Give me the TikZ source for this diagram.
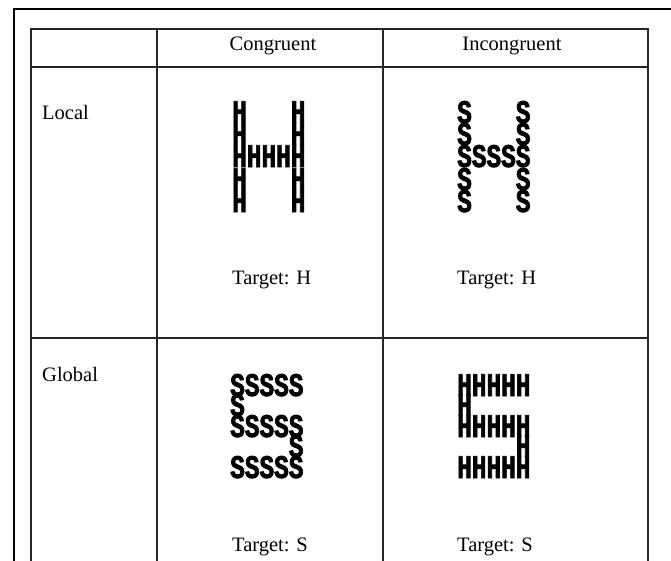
\documentclass[tikz,border=0pt]{standalone}
\usepackage{fontspec}
\setmainfont{Liberation Serif}
\newfontfamily\stimfont[FakeStretch=0.74,FakeBold=2]{Liberation Mono}
\usetikzlibrary{positioning}

\tikzset{
	frameline/.style={line width=2.6pt},
	cellline/.style={line width=1.2pt, draw=black!85},
	celltext/.style={font=\fontsize{20.5}{20.5}\selectfont, inner sep=0pt},
	stim/.style={font=\stimfont\bfseries\fontsize{33}{33}\selectfont, anchor=base west, inner sep=0pt}
}

\begin{document}
\begin{tikzpicture}[x=1pt,y=-1pt]
		\useasboundingbox (0,0) rectangle (671,560);
		% outer frame
		\draw[frameline] (14,580) -- (14,9) -- (690,9);
		
		% table
		\draw[cellline] (31,580) -- (31,29) -- (648,29) -- (648,580);
		\draw[cellline] (31,67) -- (648,67);
		\draw[cellline] (31,338) -- (648,338);
		\draw[cellline] (157,29) -- (157,580);
		\draw[cellline] (383,29) -- (383,580);
		
		\node[celltext, anchor=base] (con) at (273,50) {Congruent};
		\node[celltext, anchor=base] (inc) at (512,50) {Incongruent};
		\node[celltext, anchor=base west] (local) at (42,119) {Local};
		\node[celltext, anchor=base west] (global) at (42,381) {Global};
		
		% local, congruent
		\node[stim] (lcon1) at (232,123) {H\phantom{HHH}H};
		\node[stim] (lcon2) at (232,145) {H\phantom{HHH}H};
		\node[stim] (lcon3) at (232,167) {HHHHH};
		\node[stim] (lcon4) at (232,190) {H\phantom{HHH}H};
		\node[stim] (lcon5) at (232,212) {H\phantom{HHH}H};
		\node[celltext, anchor=base west] (lcont) at (232,284) {Target: H};
		
		% local, incongruent
		\node[stim] (linc1) at (457,123) {S\phantom{SSS}S};
		\node[stim] (linc2) at (457,145) {S\phantom{SSS}S};
		\node[stim] (linc3) at (457,167) {SSSSS};
		\node[stim] (linc4) at (457,190) {S\phantom{SSS}S};
		\node[stim] (linc5) at (457,212) {S\phantom{SSS}S};
		\node[celltext, anchor=base west] (linct) at (457,284) {Target: H};
		
		% global, congruent
		\node[stim] (gcon1) at (230,396) {SSSSS};
		\node[stim] (gcon2) at (230,416) {S};
		\node[stim] (gcon3) at (230,437) {SSSSS};
		\node[stim] (gcon4) at (230,457) {\phantom{SSSS}S};
		\node[stim] (gcon5) at (230,478) {SSSSS};
		\node[celltext, anchor=base west] (gcont) at (232,551) {Target: S};
		
		% global, incongruent
		\node[stim] (ginc1) at (457,396) {HHHHH};
		\node[stim] (ginc2) at (457,416) {H};
		\node[stim] (ginc3) at (457,437) {HHHHH};
		\node[stim] (ginc4) at (457,457) {\phantom{HHHH}H};
		\node[stim] (ginc5) at (457,478) {HHHHH};
		\node[celltext, anchor=base west] (ginct) at (457,551) {Target: S};
		
\end{tikzpicture}
\end{document}
